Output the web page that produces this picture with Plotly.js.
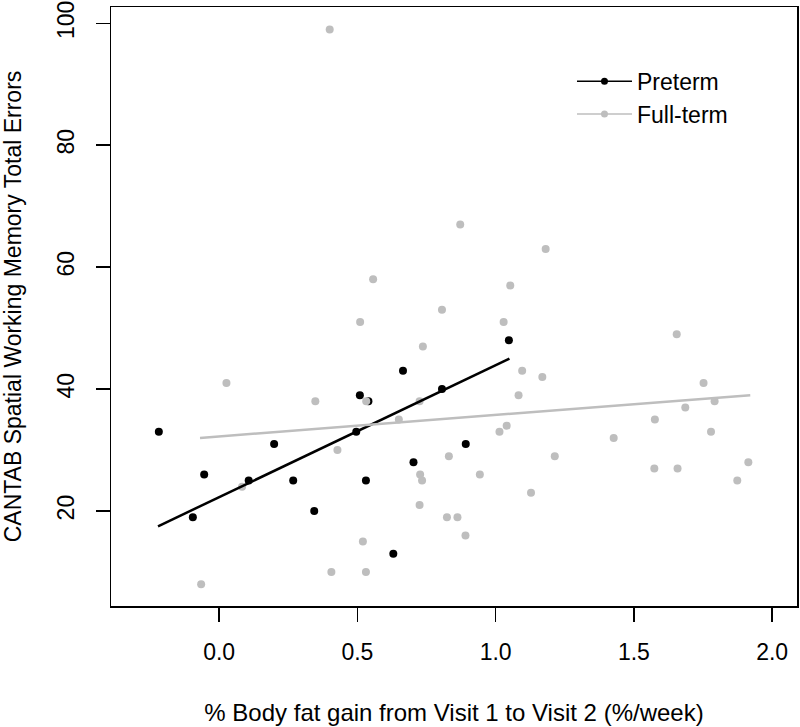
<!DOCTYPE html>
<html>
<head>
<meta charset="utf-8">
<script src="https://cdn.plot.ly/plotly-3.0.1.min.js"></script>
<style>html,body{margin:0;padding:0;background:#fff;}#chart{width:800px;height:727px;}</style>
</head>
<body>
<div id="chart"></div>
<script>
// Preterm points
const preX = [-0.218,-0.095,-0.054,0.107,0.199,0.268,0.344,0.496,0.509,0.531,0.540,0.630,0.665,0.703,0.806,0.892,1.048];
const preY = [33,19,26,25,31,25,20,33,39,25,38,13,43,28,40,31,48];
// Full-term points
const fullX = [0.400,0.557,0.806,0.510,0.872,1.181,1.053,1.029,0.737,0.0265,0.532,0.348,0.725,0.650,0.428,0.831,0.727,0.734,0.083,0.725,0.824,0.520,0.406,0.531,-0.065,1.655,1.096,1.169,1.752,1.083,1.792,1.686,1.576,1.040,1.014,1.779,1.427,1.214,1.914,1.574,1.658,0.943,1.874,1.128,0.862,0.891];
const fullY = [99,58,53,51,67,63,57,51,47,41,38,38,38,35,30,29,26,25,24,21,19,15,10,10,8,49,43,42,41,39,38,37,35,34,33,33,32,29,28,27,27,26,25,23,19,16];
// Fitted lines
const preFitX = [-0.221, 1.050];
const preFitY = [17.5, 45.0];
const fullFitX = [-0.069, 1.921];
const fullFitY = [32.0, 39.0];
// Labels
const seriesNames = ["Preterm", "Full-term"];
const xTicks = [0, 0.5, 1.0, 1.5, 2.0];
const xTickText = ["0.0", "0.5", "1.0", "1.5", "2.0"];
const yTicks = [20, 40, 60, 80, 100];
const xTitle = "% Body fat gain from Visit 1 to Visit 2 (%/week)";
const yTitle = "CANTAB Spatial Working Memory Total Errors";

const BLACK = "#000000", GRAY = "#bebebe";
const FONT = "Liberation Sans, Arial, Helvetica, sans-serif";

const traces = [
  {x: preX, y: preY, mode: "markers", type: "scatter", showlegend: false,
   marker: {color: BLACK, size: 8}},
  {x: fullX, y: fullY, mode: "markers", type: "scatter", showlegend: false,
   marker: {color: GRAY, size: 8}},
  {x: preFitX, y: preFitY, mode: "lines", type: "scatter", showlegend: false,
   line: {color: BLACK, width: 2.5}},
  {x: fullFitX, y: fullFitY, mode: "lines", type: "scatter", showlegend: false,
   line: {color: GRAY, width: 2.5}},
  {x: [null], y: [null], mode: "lines+markers", type: "scatter", name: seriesNames[0],
   line: {color: BLACK, width: 1.5}, marker: {color: BLACK, size: 7}},
  {x: [null], y: [null], mode: "lines+markers", type: "scatter", name: seriesNames[1],
   line: {color: GRAY, width: 1.5}, marker: {color: GRAY, size: 7}}
];

const layout = {
  width: 800, height: 727,
  margin: {l: 111, r: 3, t: 7, b: 121},
  paper_bgcolor: "#fff", plot_bgcolor: "#fff",
  font: {family: FONT, size: 23, color: "#000"},
  showlegend: true,
  legend: {x: 0.672, y: 0.912, xanchor: "left", yanchor: "top",
           bgcolor: "rgba(0,0,0,0)", font: {size: 23}, tracegroupgap: 0, itemwidth: 55},
  xaxis: {
    range: [-0.391, 2.090], tickvals: xTicks, ticktext: xTickText,
    ticks: "outside", ticklen: 14, tickwidth: 1.5, tickcolor: "#000",
    showline: true, mirror: true, linecolor: "#000", linewidth: 1.5,
    showgrid: false, zeroline: false, ticklabelstandoff: 11,
    title: {text: xTitle, font: {size: 24}, standoff: 40}
  },
  yaxis: {
    range: [4.43, 102.67], tickvals: yTicks, tickangle: -90,
    ticks: "outside", ticklen: 14, tickwidth: 1.5, tickcolor: "#000",
    showline: true, mirror: true, linecolor: "#000", linewidth: 1.5,
    showgrid: false, zeroline: false, ticklabelstandoff: 12,
    title: {text: yTitle, font: {size: 23}, standoff: 41}
  }
};

Plotly.newPlot("chart", traces, layout, {displayModeBar: false, staticPlot: true});
</script>
</body>
</html>
